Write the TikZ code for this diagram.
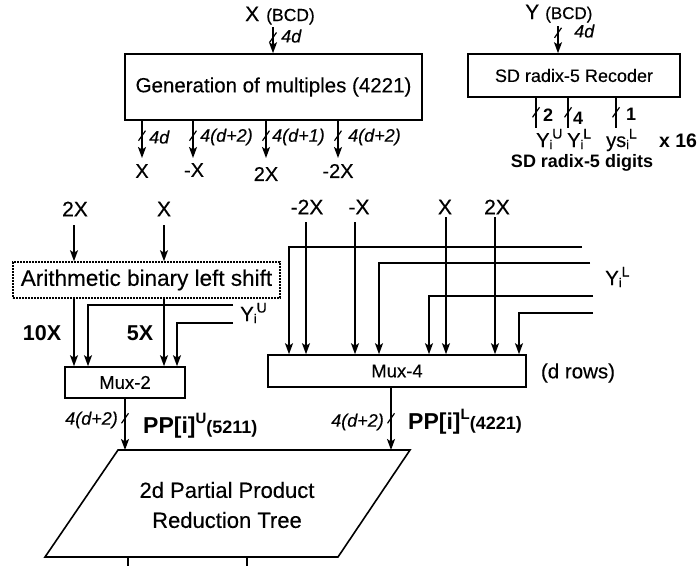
\documentclass[tikz,border=0pt]{standalone}
\usepackage{fontspec}
\setmainfont{Liberation Sans}[UprightFeatures={FakeBold=0.3},ItalicFeatures={FakeBold=0.3}]
\usetikzlibrary{arrows.meta,calc,decorations.markings}
\newcommand\fsz[1]{\fontsize{#1}{#1}\selectfont}
\newcommand\ysub[3]{#1\raisebox{-2pt}{\fsz{12.5}#2}\raisebox{8.5pt}{\fsz{14}#3}}
\begin{document}
\begin{tikzpicture}[x=1pt,y=-1pt,
  wire/.style={line width=1.5pt},
  arr/.style={line width=1.5pt,-{Stealth[length=11pt,width=8pt,inset=2.5pt]}},
  tick/.style={postaction={decorate,decoration={markings,mark=at position #1 with {\draw[-,line width=1.2pt] (5pt,-3.5pt) -- (-5pt,3.5pt);}}}},
  box/.style={draw,line width=1.6pt,inner sep=0pt},
  txt/.style={inner sep=0pt},
  bw/.style={txt,font=\fsz{18}\itshape},
  lab/.style={txt,font=\fsz{20}},
]
\useasboundingbox (0,0) rectangle (700,566);

% ---------- generation of multiples
\node[txt,anchor=base west] (xin) at (245,21) {\fsz{21}X\hspace{7pt}\fsz{17.5}(BCD)};
\node[box,minimum width=297pt,minimum height=66pt,font=\fsz{20.5}] (gen) at (273.5,87) {Generation of multiples (4221)};
\coordinate (xa) at (273,27);
\draw[arr,tick=0.4] (xa) -- (xa |- gen.north);
\node[bw,anchor=west] (xw) at (281,36) {4d};

\coordinate (oend) at (0,158);
\node[lab] (oX) at (142,171) {X};
\node[lab] (onX) at (194,170) {-X};
\node[lab] (o2X) at (266,174) {2X};
\node[lab] (on2X) at (338,171) {-2X};
\coordinate (g1) at (142,0);
\coordinate (g2) at (193,0);
\coordinate (g3) at (266,0);
\coordinate (g4) at (338,0);
\draw[arr,tick=0.4] (g1 |- gen.south) -- (g1 |- oend);
\draw[arr,tick=0.4] (g2 |- gen.south) -- (g2 |- oend);
\draw[arr,tick=0.4] (g3 |- gen.south) -- (g3 |- oend);
\draw[arr,tick=0.4] (g4 |- gen.south) -- (g4 |- oend);
\node[bw,anchor=west] (w1) at (149,137) {4d};
\node[bw,anchor=west] (w2) at (200,137) {4(d+2)};
\node[bw,anchor=west] (w3) at (272,137) {4(d+1)};
\node[bw,anchor=west] (w4) at (348,137) {4(d+2)};

% ---------- recoder
\node[txt,anchor=base west] (yin) at (525,19) {\fsz{21}Y\hspace{6pt}\fsz{17}(BCD)};
\node[box,minimum width=212pt,minimum height=43pt,font=\fsz{18}] (rec) at (574,75.5) {SD radix-5 Recoder};
\coordinate (ya) at (558,26);
\draw[arr,tick=0.25] (ya) -- (ya |- rec.north);
\node[bw,anchor=west] (yw) at (574,31) {4d};

\coordinate (rend) at (0,128);
\coordinate (r1) at (536,0);
\coordinate (r2) at (568,0);
\coordinate (r3) at (616,0);
\draw[wire,tick=0.48] (r1 |- rec.south) -- (r1 |- rend);
\draw[wire,tick=0.48] (r2 |- rec.south) -- (r2 |- rend);
\draw[wire,tick=0.48] (r3 |- rec.south) -- (r3 |- rend);
\node[txt,font=\fsz{18}\bfseries] (n2) at (548,115) {2};
\node[txt,font=\fsz{18}\bfseries] (n4) at (578,118) {4};
\node[txt,font=\fsz{18}\bfseries] (n1) at (631,114) {1};
\node[txt,anchor=base west,font=\fsz{20}] (yU) at (536,147) {\ysub{Y}{i}{U}};
\node[txt,anchor=base west,font=\fsz{20}] (yL) at (567,147) {\ysub{Y}{i}{L}};
\node[txt,anchor=base west,font=\fsz{20}] (ysL) at (606,147) {\ysub{ys}{i}{L}};
\node[txt,font=\fsz{19.5}\bfseries] (x16) at (678,141) {x 16};
\node[txt,font=\fsz{18}\bfseries] (sdd) at (582,163) {SD radix-5 digits};

% ---------- left: shift and mux-2
\node[txt,font=\fsz{21}] (l2X) at (75,209) {2X};
\node[txt,font=\fsz{21}] (lX) at (164,209) {X};
\node[box,line width=1.6pt,dash pattern=on 1.6pt off 1.4pt,minimum width=267pt,minimum height=36pt,font=\fsz{22.5}] (shift) at (146.5,280) {Arithmetic binary left shift};
\node[box,minimum width=120pt,minimum height=31pt,font=\fsz{18.5}] (mux2) at (125,382.5) {Mux-2};
\coordinate (sa) at (0,225);
\coordinate (c10) at (74,0);
\coordinate (c5) at (164,0);
\draw[arr] (c10 |- sa) -- (c10 |- shift.north);
\draw[arr] (c5 |- sa) -- (c5 |- shift.north);
\draw[arr] (c10 |- shift.south) -- (c10 |- mux2.north);
\draw[arr] (c5 |- shift.south) -- (c5 |- mux2.north);
\coordinate (yu1) at (233,305);
\coordinate (yu2) at (233,323);
\coordinate (tu1) at (88,305);
\coordinate (tu2) at (177,323);
\draw[arr] (yu1) -- (tu1) -- (tu1 |- mux2.north);
\draw[arr] (yu2) -- (tu2) -- (tu2 |- mux2.north);
\node[txt,anchor=base west,font=\fsz{20.5}] (yU2) at (240,321) {\ysub{Y}{i}{U}};
\node[txt,font=\fsz{21.5}\bfseries] (t10) at (42,333) {10X};
\node[txt,font=\fsz{21.5}\bfseries] (t5) at (140,333) {5X};

% ---------- parallelogram
\coordinate (pTL) at (118,450);
\coordinate (pTR) at (410,450);
\coordinate (pBR) at (338,557);
\coordinate (pBL) at (45,557);
\draw[line width=1.6pt,line join=miter] (pTL) -- (pTR) -- (pBR) -- (pBL) -- cycle;
\node[txt,font=\fontsize{22}{30}\selectfont,align=center] (tree) at (227,505) {2d Partial Product\\Reduction Tree};
\coordinate (b1) at (128,566);
\coordinate (b2) at (247,566);
\draw[wire] (b1 |- pBL) -- (b1);
\draw[wire] (b2 |- pBL) -- (b2);

\draw[arr,tick=0.38] (mux2.south) -- (mux2.south |- pTL);
\node[bw,anchor=east] (w5) at (118,420) {4(d+2)};
\node[txt,anchor=base west] (ppU) at (143,433) {\bfseries\fsz{23}PP[i]\raisebox{10pt}{\fsz{15}U}\fsz{18}(5211)};

% ---------- right: mux-4
\node[txt,font=\fsz{21}] (rn2X) at (307,207) {-2X};
\node[txt,font=\fsz{21}] (rnX) at (359,207) {-X};
\node[txt,font=\fsz{21}] (rX) at (445,207) {X};
\node[txt,font=\fsz{21}] (r2X) at (497,207) {2X};
\node[box,minimum width=258pt,minimum height=32pt,font=\fsz{18.5}] (mux4) at (397,371) {Mux-4};
\coordinate (v1) at (306,222);
\coordinate (v2) at (355,222);
\coordinate (v3) at (446,217);
\coordinate (v4) at (495,217);
\draw[arr] (v1) -- (v1 |- mux4.north);
\draw[arr] (v2) -- (v2 |- mux4.north);
\draw[arr] (v3) -- (v3 |- mux4.north);
\draw[arr] (v4) -- (v4 |- mux4.north);
\coordinate (h1) at (582,247);
\coordinate (k1) at (289,247);
\coordinate (h2) at (590,263);
\coordinate (k2) at (379,263);
\coordinate (h3) at (593,296);
\coordinate (k3) at (429,296);
\coordinate (h4) at (593,313);
\coordinate (k4) at (519,313);
\draw[arr] (h1) -- (k1) -- (k1 |- mux4.north);
\draw[arr] (h2) -- (k2) -- (k2 |- mux4.north);
\draw[arr] (h3) -- (k3) -- (k3 |- mux4.north);
\draw[arr] (h4) -- (k4) -- (k4 |- mux4.north);
\node[txt,anchor=base west,font=\fsz{20.5}] (yL2) at (605,285) {\ysub{Y}{i}{L}};
\node[txt,font=\fsz{20.5}] (drows) at (578,373) {(d rows)};

\coordinate (m4o) at ([xshift=-6pt]mux4.south);
\draw[arr,tick=0.49] (m4o) -- (m4o |- pTL);
\node[bw,anchor=east] (w6) at (384,422) {4(d+2)};
\node[txt,anchor=base west] (ppL) at (408,429) {\bfseries\fsz{23}PP[i]\raisebox{10pt}{\fsz{15}L}\fsz{18}(4221)};
\end{tikzpicture}
\end{document}
